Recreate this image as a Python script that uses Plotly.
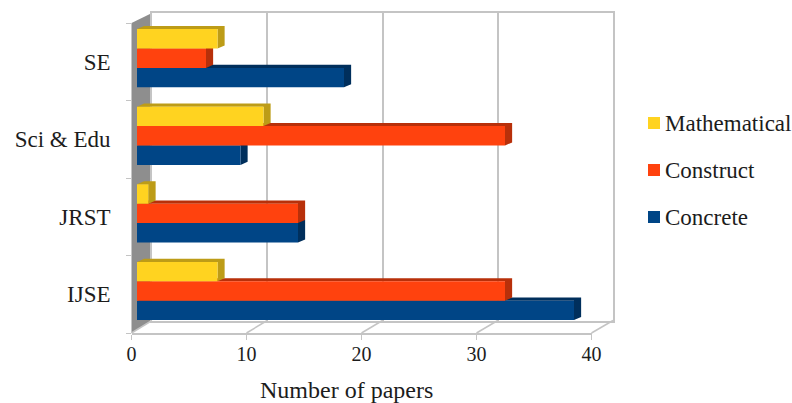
import plotly.graph_objects as go

categories = ["IJSE", "JRST", "Sci & Edu", "SE"]
series_names = ["Concrete", "Construct", "Mathematical"]
concrete = [38, 14, 9, 18]
construct = [32, 14, 32, 6]
mathematical = [7, 1, 11, 7]
x_ticks = [0, 10, 20, 30, 40]

series_values = [concrete, construct, mathematical]
front_colors = ["#004586", "#FF420E", "#FFD320"]
depth_colors = ["#002f5c", "#b8300a", "#bd9c17"]

W, H = 792, 403
FONT = "Liberation Serif"
TXT = "#1c1c1c"
GRID = "#c4c4c4"


def px(x):
    return x / W


def py(y):
    return 1 - y / H


BAR_W = 0.25
DX, DY = 0.62, 0.04

fig = go.Figure()

# back wall subplot (grid) - first, so it sits lowest
fig.add_trace(go.Scatter(x=[0], y=[0], xaxis="x", yaxis="y", mode="markers",
                         marker=dict(opacity=0), hoverinfo="skip"))
# front axis subplot (tick labels)
fig.add_trace(go.Scatter(x=[0], y=[0], xaxis="x2", yaxis="y2", mode="markers",
                         marker=dict(opacity=0), hoverinfo="skip"))

# depth faces (side + top) computed from the data
for s, (vals, col) in enumerate(zip(series_values, depth_colors)):
    for c, v in enumerate(vals):
        y0 = c + (s - 1.5) * BAR_W
        y1 = y0 + BAR_W
        fig.add_trace(go.Scatter(
            x=[0, DX, v + DX, v + DX, v, v, 0],
            y=[y1, y1 + DY, y1 + DY, y0 + DY, y0, y1, y1],
            xaxis="x3", yaxis="y3", mode="lines", fill="toself",
            fillcolor=col, line=dict(width=0), hoverinfo="skip"))

# front faces
for name, vals, col in zip(series_names, series_values, front_colors):
    fig.add_trace(go.Bar(name=name, y=list(range(len(categories))), x=vals,
                         orientation="h", marker=dict(color=col, line=dict(width=0)),
                         xaxis="x4", yaxis="y4"))

wall_x = [px(152), px(613)]
wall_y = [py(320.5), py(13)]
front_x = [px(131.5), px(591.5)]
front_y = [py(333), py(23)]
bar_x = [px(137), px(597)]
bar_y = [py(329.8), py(19.4)]
cat_range = [-0.5, 3.5]

hidden = dict(showticklabels=False, ticks="", showgrid=False, zeroline=False)

layout = dict(
    width=W, height=H, margin=dict(l=0, r=0, t=0, b=0, autoexpand=False),
    paper_bgcolor="white", plot_bgcolor="rgba(0,0,0,0)", showlegend=False,
    barmode="group", bargap=0.25, bargroupgap=0,
    font=dict(family=FONT, color=TXT),
    xaxis=dict(domain=wall_x, range=[0, 40], tickvals=x_ticks, showgrid=True,
               gridcolor=GRID, gridwidth=1.5, showticklabels=False, ticks="",
               zeroline=False, showline=True, linecolor=GRID, linewidth=1.5,
               mirror=True, anchor="y"),
    yaxis=dict(domain=wall_y, range=[0, 1], showline=True, linecolor=GRID,
               linewidth=1.5, mirror=True, anchor="x", **hidden),
    xaxis2=dict(domain=front_x, range=[0, 40], tickvals=x_ticks, ticks="outside",
                ticklen=5, tickcolor=GRID, showline=True, linecolor=GRID, linewidth=1.5,
                showgrid=False, zeroline=False, anchor="y2", ticklabelstandoff=-3,
                tickfont=dict(size=20, family=FONT, color=TXT)),
    yaxis2=dict(domain=front_y, range=cat_range, tickvals=list(range(4)),
                ticktext=categories, ticks="", showgrid=False, zeroline=False,
                showline=False, anchor="x2", ticklabelstandoff=20,
                tickfont=dict(size=23, family=FONT, color=TXT),
                minor=dict(tickvals=[-0.5, 0.5, 1.5, 2.5, 3.5], ticks="outside",
                           ticklen=5, tickcolor=GRID, showgrid=False)),
    xaxis3=dict(domain=bar_x, range=[0, 40], anchor="y3", **hidden),
    yaxis3=dict(domain=bar_y, range=cat_range, anchor="x3", **hidden),
    xaxis4=dict(domain=bar_x, range=[0, 40], anchor="y4", **hidden),
    yaxis4=dict(domain=bar_y, range=cat_range, anchor="x4", **hidden),
)

shapes = [dict(type="path", xref="paper", yref="paper", layer="below",
               path=f"M{px(131.5)},{py(333)} L{px(152)},{py(320.5)} L{px(152)},{py(13)} "
                    f"L{px(131.5)},{py(23)} Z",
               fillcolor="#8e8e8e", line=dict(width=0))]
for t in x_ticks:
    fx = 131.5 + t * 11.5
    bx = 152 + t * 11.525
    shapes.append(dict(type="line", xref="paper", yref="paper", layer="below",
                       x0=px(fx), y0=py(333), x1=px(bx), y1=py(320.5),
                       line=dict(color=GRID, width=1.5)))

annotations = [dict(text="Number of papers", xref="paper", yref="paper",
                    x=px(346), y=py(390), xanchor="center", yanchor="middle",
                    showarrow=False, font=dict(size=24, family=FONT, color=TXT))]

legend_y = {"Mathematical": 123, "Construct": 170, "Concrete": 217}
for name, col in zip(series_names, front_colors):
    ly = legend_y[name]
    shapes.append(dict(type="rect", xref="paper", yref="paper", layer="above",
                       x0=px(648), x1=px(660), y0=py(ly + 6), y1=py(ly - 6),
                       fillcolor=col, line=dict(width=0)))
    annotations.append(dict(text=name, xref="paper", yref="paper", x=px(663),
                            y=py(ly), xanchor="left", yanchor="middle", showarrow=False,
                            font=dict(size=23, family=FONT, color=TXT)))

fig.update_layout(shapes=shapes, annotations=annotations, **layout)
fig.write_html("out.html", config=dict(displayModeBar=False),
               post_script="document.body.style.margin='0';document.body.style.overflow='hidden';")
